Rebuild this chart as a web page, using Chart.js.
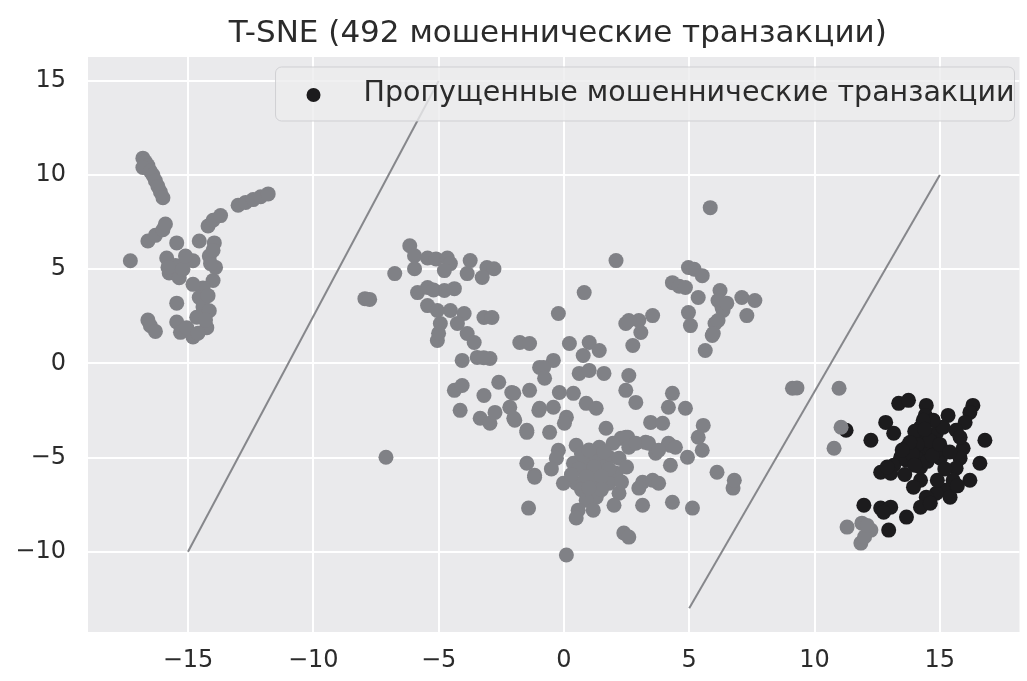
<!DOCTYPE html>
<html>
<head>
<meta charset="utf-8">
<script src="https://cdn.jsdelivr.net/npm/chart.js@4.4.1/dist/chart.umd.min.js"></script>
<style>
  html, body { margin: 0; padding: 0; background: #fff; }
  canvas { display: block; }
</style>
</head>
<body>
<canvas id="tsne" width="1027" height="681"></canvas>
<script>
const title = "T-SNE (492 мошеннические транзакции)";
const legendLabel = "Пропущенные мошеннические транзакции";

const xTicks = [-15, -10, -5, 0, 5, 10, 15];
const yTicks = [-10, -5, 0, 5, 10, 15];

// gray: all other fraud points in the embedding
const otherPoints = [
  // left group
  [-16.8, 10.9], [-16.7, 10.7], [-16.6, 10.5], [-16.8, 10.4], [-16.5, 10.2], [-16.4, 10.0],
  [-16.3, 9.7], [-16.2, 9.4], [-16.1, 9.1], [-16.0, 8.8],
  [-16.6, 6.5], [-16.3, 6.8], [-16.0, 7.1], [-15.9, 7.4], [-17.3, 5.45],
  [-14.2, 7.3], [-14.0, 7.6], [-13.7, 7.85],
  [-13.0, 8.4], [-12.7, 8.55], [-12.4, 8.7], [-12.1, 8.85], [-11.8, 9.0],
  [-15.45, 6.4], [-14.55, 6.5], [-13.95, 6.4], [-15.85, 5.6], [-15.75, 4.8], [-15.35, 4.55],
  [-14.8, 5.45], [-14.15, 5.7], [-13.9, 5.1], [-14.0, 4.4], [-14.4, 4.0], [-14.8, 4.2],
  [-14.55, 3.5], [-14.4, 3.0], [-15.45, 3.2], [-14.15, 2.8], [-14.65, 2.45], [-15.45, 2.2],
  [-15.3, 1.65], [-14.8, 1.4], [-14.25, 1.9], [-15.05, 1.9], [-15.5, 5.2], [-15.2, 5.0],
  [-14.1, 5.3], [-14.2, 3.6], [-14.3, 2.3], [-14.6, 1.6], [-15.1, 5.7], [-14.0, 6.0], [-15.8, 5.1],
  [-16.6, 2.3], [-16.5, 2.0], [-16.3, 1.7],
  // middle left
  [-6.15, 6.25], [-5.96, 5.72], [-5.44, 5.6], [-5.1, 5.55], [-4.65, 5.6], [-4.53, 5.3],
  [-4.77, 4.93], [-5.96, 5.03], [-3.74, 5.46], [-3.86, 4.77], [-3.07, 5.09], [-2.79, 5.03],
  [-3.26, 4.56], [-6.75, 4.77], [-7.94, 3.44], [-7.75, 3.4], [-5.84, 3.76], [-5.44, 4.03],
  [-4.77, 3.87], [-4.37, 3.97], [-5.2, 3.9], [-5.44, 3.07], [-5.05, 2.81], [-4.53, 2.81],
  [-3.98, 2.65], [-4.93, 2.12], [-5.05, 1.22], [-5.0, 1.6], [-4.25, 2.12], [-3.86, 1.59],
  [-3.58, 1.11], [-3.19, 2.44], [-2.87, 2.44], [-4.06, 0.16], [-3.46, 0.32], [-2.95, 0.26],
  [-3.2, 0.3], [-1.76, 1.11], [-1.37, 1.06], [-4.37, -1.43], [-4.06, -1.17], [-3.19, -1.7],
  [-2.6, -1.0], [-4.14, -2.49], [-3.34, -2.91], [-2.95, -3.18], [-2.75, -2.6], [-7.1, -4.98],
  [-2.0, -1.59], [-2.16, -2.33], [-1.96, -3.02], [-1.48, -3.55], [-1.48, -5.3], [-1.17, -5.94],
  [-1.37, -1.43], [-0.97, -0.21], [-1.0, -2.49],
  // centre
  [-0.22, 2.65], [0.22, 1.06], [1.01, 1.11], [1.41, 0.69], [0.77, 0.42], [0.61, -0.53],
  [1.01, -0.37], [1.6, -0.53], [-0.42, 0.16], [-0.81, -0.21], [-0.77, -0.79], [-2.08, -1.54],
  [-0.18, -1.54], [0.38, -1.59], [-0.97, -2.38], [-0.42, -2.33], [0.1, -2.86], [0.02, -3.18],
  [0.89, -2.12], [1.29, -2.38], [-2.0, -2.91], [-1.48, -3.66], [-0.57, -3.66], [2.59, -0.64],
  [2.47, -1.43], [2.87, -2.07], [2.75, 0.95], [2.47, 2.12], [2.99, 2.28], [3.54, 2.54],
  [3.07, 1.64], [2.08, 5.46], [0.81, 3.76], [2.59, 2.28],
  // upper right of centre
  [4.97, 2.7], [5.05, 2.01], [6.31, 2.97], [6.03, 2.12], [5.92, 1.48], [5.64, 0.69],
  [5.84, 8.27], [4.97, 5.09], [5.2, 5.0], [5.52, 4.66], [4.33, 4.29], [4.6, 4.1], [4.85, 4.03],
  [5.36, 3.5], [6.23, 3.87], [6.15, 3.34], [6.35, 2.81], [6.15, 2.28], [5.96, 1.59],
  [7.1, 3.5], [7.62, 3.34], [7.3, 2.54], [6.5, 3.2],
  // lower right of centre
  [4.33, -1.59], [4.17, -2.33], [4.85, -2.38], [3.46, -3.13], [3.94, -3.18], [5.56, -3.29],
  [5.36, -3.92], [5.52, -4.61], [4.93, -4.98], [4.25, -5.41], [6.11, -5.78], [6.75, -6.62], [6.8, -6.2],
  // dense lower block
  [1.68, -3.44], [2.55, -3.92], [3.26, -4.19], [4.25, -4.35], [3.66, -4.77], [2.28, -3.97],
  [0.49, -4.35], [-0.22, -4.61], [-0.3, -5.03], [0.38, -5.3], [0.89, -5.14], [1.41, -4.45],
  [1.96, -4.24], [2.47, -3.92], [1.29, -4.98], [1.8, -4.98], [2.2, -5.03], [1.56, -5.51],
  [2.08, -5.83], [1.01, -5.83], [0.49, -6.36], [-0.02, -6.36], [1.29, -6.31], [1.8, -6.36],
  [2.2, -6.89], [2.0, -7.53], [1.29, -7.1], [0.89, -7.26], [1.17, -7.79], [0.57, -7.79],
  [0.49, -8.21], [3.14, -7.53], [4.33, -7.37], [5.13, -7.68], [3.14, -6.31], [3.54, -6.2],
  [3.78, -6.36], [2.99, -6.62], [-1.17, -6.04], [-1.41, -7.68], [2.39, -9.0], [2.59, -9.22],
  [0.1, -10.17], [4.17, -4.24], [4.45, -4.45], [2.59, -4.45], [2.87, -4.24], [3.38, -4.24],
  [3.78, -4.61], [0.7, -4.8], [1.0, -4.6], [1.6, -4.7], [0.6, -5.6], [1.2, -5.5], [1.8, -5.6],
  [0.9, -6.0], [1.5, -6.0], [0.7, -6.7], [1.5, -6.7], [1.0, -6.6], [2.3, -6.3], [0.3, -5.9],
  [2.5, -5.5], [-0.5, -5.6],
  // right side
  [9.12, -1.32], [9.3, -1.3], [10.98, -1.32], [11.06, -3.39], [10.78, -4.5],
  [11.3, -8.69], [11.89, -8.48], [12.25, -8.85], [11.85, -9.54], [12.0, -9.2], [12.1, -8.6]
];

// black: missed fraud transactions
const missedPoints = [
  [11.26, -3.55], [12.25, -4.08], [12.84, -3.13], [13.16, -3.71], [13.36, -2.12], [13.75, -1.96],
  [14.46, -2.23], [14.42, -2.76], [15.33, -2.76], [16.32, -2.23], [16.2, -2.6], [16.01, -3.13],
  [15.65, -3.55], [16.8, -4.08], [14.23, -3.39], [13.95, -4.08], [14.46, -3.92], [14.86, -3.71],
  [15.13, -3.39], [13.67, -4.45], [14.23, -4.61], [14.62, -4.45], [13.44, -4.98], [14.07, -5.03],
  [15.02, -5.03], [15.93, -4.5], [15.81, -5.03], [16.6, -5.3], [15.65, -5.56], [13.16, -5.41],
  [12.64, -5.78], [13.04, -5.83], [16.2, -6.2], [15.53, -6.2], [14.23, -6.2], [13.95, -6.57],
  [15.25, -6.73], [14.86, -6.89], [14.46, -7.1], [15.41, -7.1], [14.23, -7.63], [14.62, -7.42],
  [11.97, -7.53], [12.64, -7.68], [13.04, -7.63], [12.76, -7.9], [13.67, -8.16], [12.96, -8.85],
  [14.74, -3.02], [14.34, -3.02], [14.34, -4.08], [13.67, -5.14], [14.86, -4.61], [14.23, -5.51],
  [15.81, -3.92], [14.0, -3.6], [14.6, -4.1], [14.1, -4.3], [13.9, -4.8], [14.5, -5.2],
  [13.8, -4.2], [14.4, -3.5], [14.0, -5.4], [13.5, -4.6], [14.7, -4.9], [15.0, -4.3],
  [15.4, -4.7], [15.2, -5.6], [14.9, -6.2], [15.7, -6.5], [13.6, -5.9], [12.9, -5.5]
];

const lineLeft = [[-15, -10], [-5, 15]];
const lineRight = [[5, -13], [15, 10]];

const toXY = (pairs) => pairs.map(([x, y]) => ({ x, y }));

const FONT = "'DejaVu Sans', 'Liberation Sans', sans-serif";
const TEXT = "#2b2b2b";

const backgroundPlugin = {
  id: "plotBackground",
  beforeDraw(chart) {
    const { ctx, chartArea: a } = chart;
    ctx.save();
    ctx.fillStyle = "#eaeaec";
    ctx.fillRect(a.left, a.top, a.right - a.left, a.bottom - a.top);
    ctx.restore();
  },
};

const titleLegendPlugin = {
  id: "titleLegend",
  afterDraw(chart) {
    const { ctx, chartArea: a } = chart;
    ctx.save();
    ctx.font = "31px " + FONT;
    ctx.fillStyle = TEXT;
    ctx.textAlign = "center";
    ctx.textBaseline = "middle";
    ctx.fillText(title, (a.left + a.right) / 2 + 4, 34);

    // legend box, upper right corner of the axes
    ctx.font = "28.5px " + FONT;
    const textW = ctx.measureText(legendLabel).width;
    const boxW = textW + 88;
    const boxH = 54;
    const bx = a.right - 5 - boxW;
    const by = a.top + 10;
    ctx.beginPath();
    ctx.roundRect(bx, by, boxW, boxH, 6);
    ctx.fillStyle = "rgba(236,236,238,0.8)";
    ctx.fill();
    ctx.strokeStyle = "rgba(205,205,208,0.9)";
    ctx.lineWidth = 1;
    ctx.stroke();

    ctx.beginPath();
    ctx.arc(bx + 38, by + boxH / 2 + 1, 7, 0, Math.PI * 2);
    ctx.fillStyle = "#1c1b1d";
    ctx.fill();

    ctx.fillStyle = TEXT;
    ctx.textAlign = "left";
    ctx.fillText(legendLabel, bx + 88, by + boxH / 2);
    ctx.restore();
  },
};

const minus = (v) => String(v).replace("-", "\u2212");

new Chart(document.getElementById("tsne"), {
  type: "scatter",
  data: {
    datasets: [
      {
        label: "other",
        data: toXY(otherPoints),
        backgroundColor: "#808186",
        borderWidth: 0,
        pointRadius: 7.5,
      },
      {
        label: legendLabel,
        data: toXY(missedPoints),
        backgroundColor: "#1c1b1d",
        borderWidth: 0,
        pointRadius: 7.5,
      },
      {
        type: "line",
        label: "left",
        data: toXY(lineLeft),
        borderColor: "#86878b",
        borderWidth: 2,
        pointRadius: 0,
      },
      {
        type: "line",
        label: "right",
        data: toXY(lineRight),
        borderColor: "#86878b",
        borderWidth: 2,
        pointRadius: 0,
      },
    ],
  },
  options: {
    responsive: false,
    animation: false,
    layout: { padding: { top: 57, right: 0, left: 0, bottom: 0 } },
    plugins: {
      legend: { display: false },
      title: { display: false },
      tooltip: { enabled: false },
    },
    scales: {
      x: {
        type: "linear",
        min: -18.99,
        max: 18.18,
        border: { display: false },
        grid: { color: "#ffffff", lineWidth: 2, drawTicks: false },
        ticks: { font: { family: FONT, size: 24 }, color: TEXT, padding: 14, callback: minus, maxRotation: 0 },
        afterBuildTicks: (s) => { s.ticks = xTicks.map((v) => ({ value: v })); },
        afterFit: (s) => { s.height = 49; },
      },
      y: {
        type: "linear",
        min: -14.26,
        max: 16.27,
        border: { display: false },
        grid: { color: "#ffffff", lineWidth: 2, drawTicks: false },
        ticks: { font: { family: FONT, size: 24 }, color: TEXT, padding: 22, callback: minus },
        afterBuildTicks: (s) => { s.ticks = yTicks.map((v) => ({ value: v })); },
        afterFit: (s) => { s.width = 88; },
      },
    },
  },
  plugins: [backgroundPlugin, titleLegendPlugin],
});
</script>
</body>
</html>
